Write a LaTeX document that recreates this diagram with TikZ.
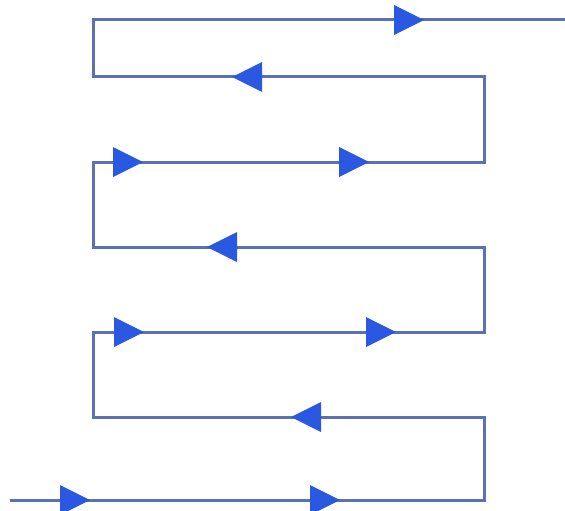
\documentclass[tikz,border=0pt]{standalone}
\definecolor{linec}{HTML}{5A72B4}
\definecolor{arrc}{HTML}{2A58E0}
\tikzset{
  pathline/.style={draw=linec, line width=3pt, line join=miter},
  rtri/.pic={\fill[arrc] (-15,-15) -- (15,0) -- (-15,15) -- cycle;},
  ltri/.pic={\fill[arrc] (15,-15) -- (-15,0) -- (15,15) -- cycle;},
}
\begin{document}
\begin{tikzpicture}[x=1pt,y=-1pt]
\useasboundingbox (0,0) rectangle (565,511);
% corners
\coordinate (s) at (10,500);
\coordinate (b1) at (484,500);
\coordinate (b2) at (484,417);
\coordinate (c1) at (93,417);
\coordinate (c2) at (93,332);
\coordinate (d1) at (484,332);
\coordinate (d2) at (484,247);
\coordinate (e1) at (93,247);
\coordinate (e2) at (93,162);
\coordinate (f1) at (484,162);
\coordinate (f2) at (484,77);
\coordinate (g1) at (93,77);
\coordinate (g2) at (93,20);
\coordinate (t) at (565,20);
\draw[pathline] (s) -- (b1) -- (b2) -- (c1) -- (c2) -- (d1) -- (d2) -- (e1) -- (e2) -- (f1) -- (f2) -- (g1) -- (g2) -- (t);
% arrowheads
\pic at (75,500) {rtri};
\pic at (325,500) {rtri};
\pic at (306,417) {ltri};
\pic at (129,332) {rtri};
\pic at (381,332) {rtri};
\pic at (222,247) {ltri};
\pic at (128,162) {rtri};
\pic at (354,162) {rtri};
\pic at (247,77) {ltri};
\pic at (409,20) {rtri};
\end{tikzpicture}
\end{document}
